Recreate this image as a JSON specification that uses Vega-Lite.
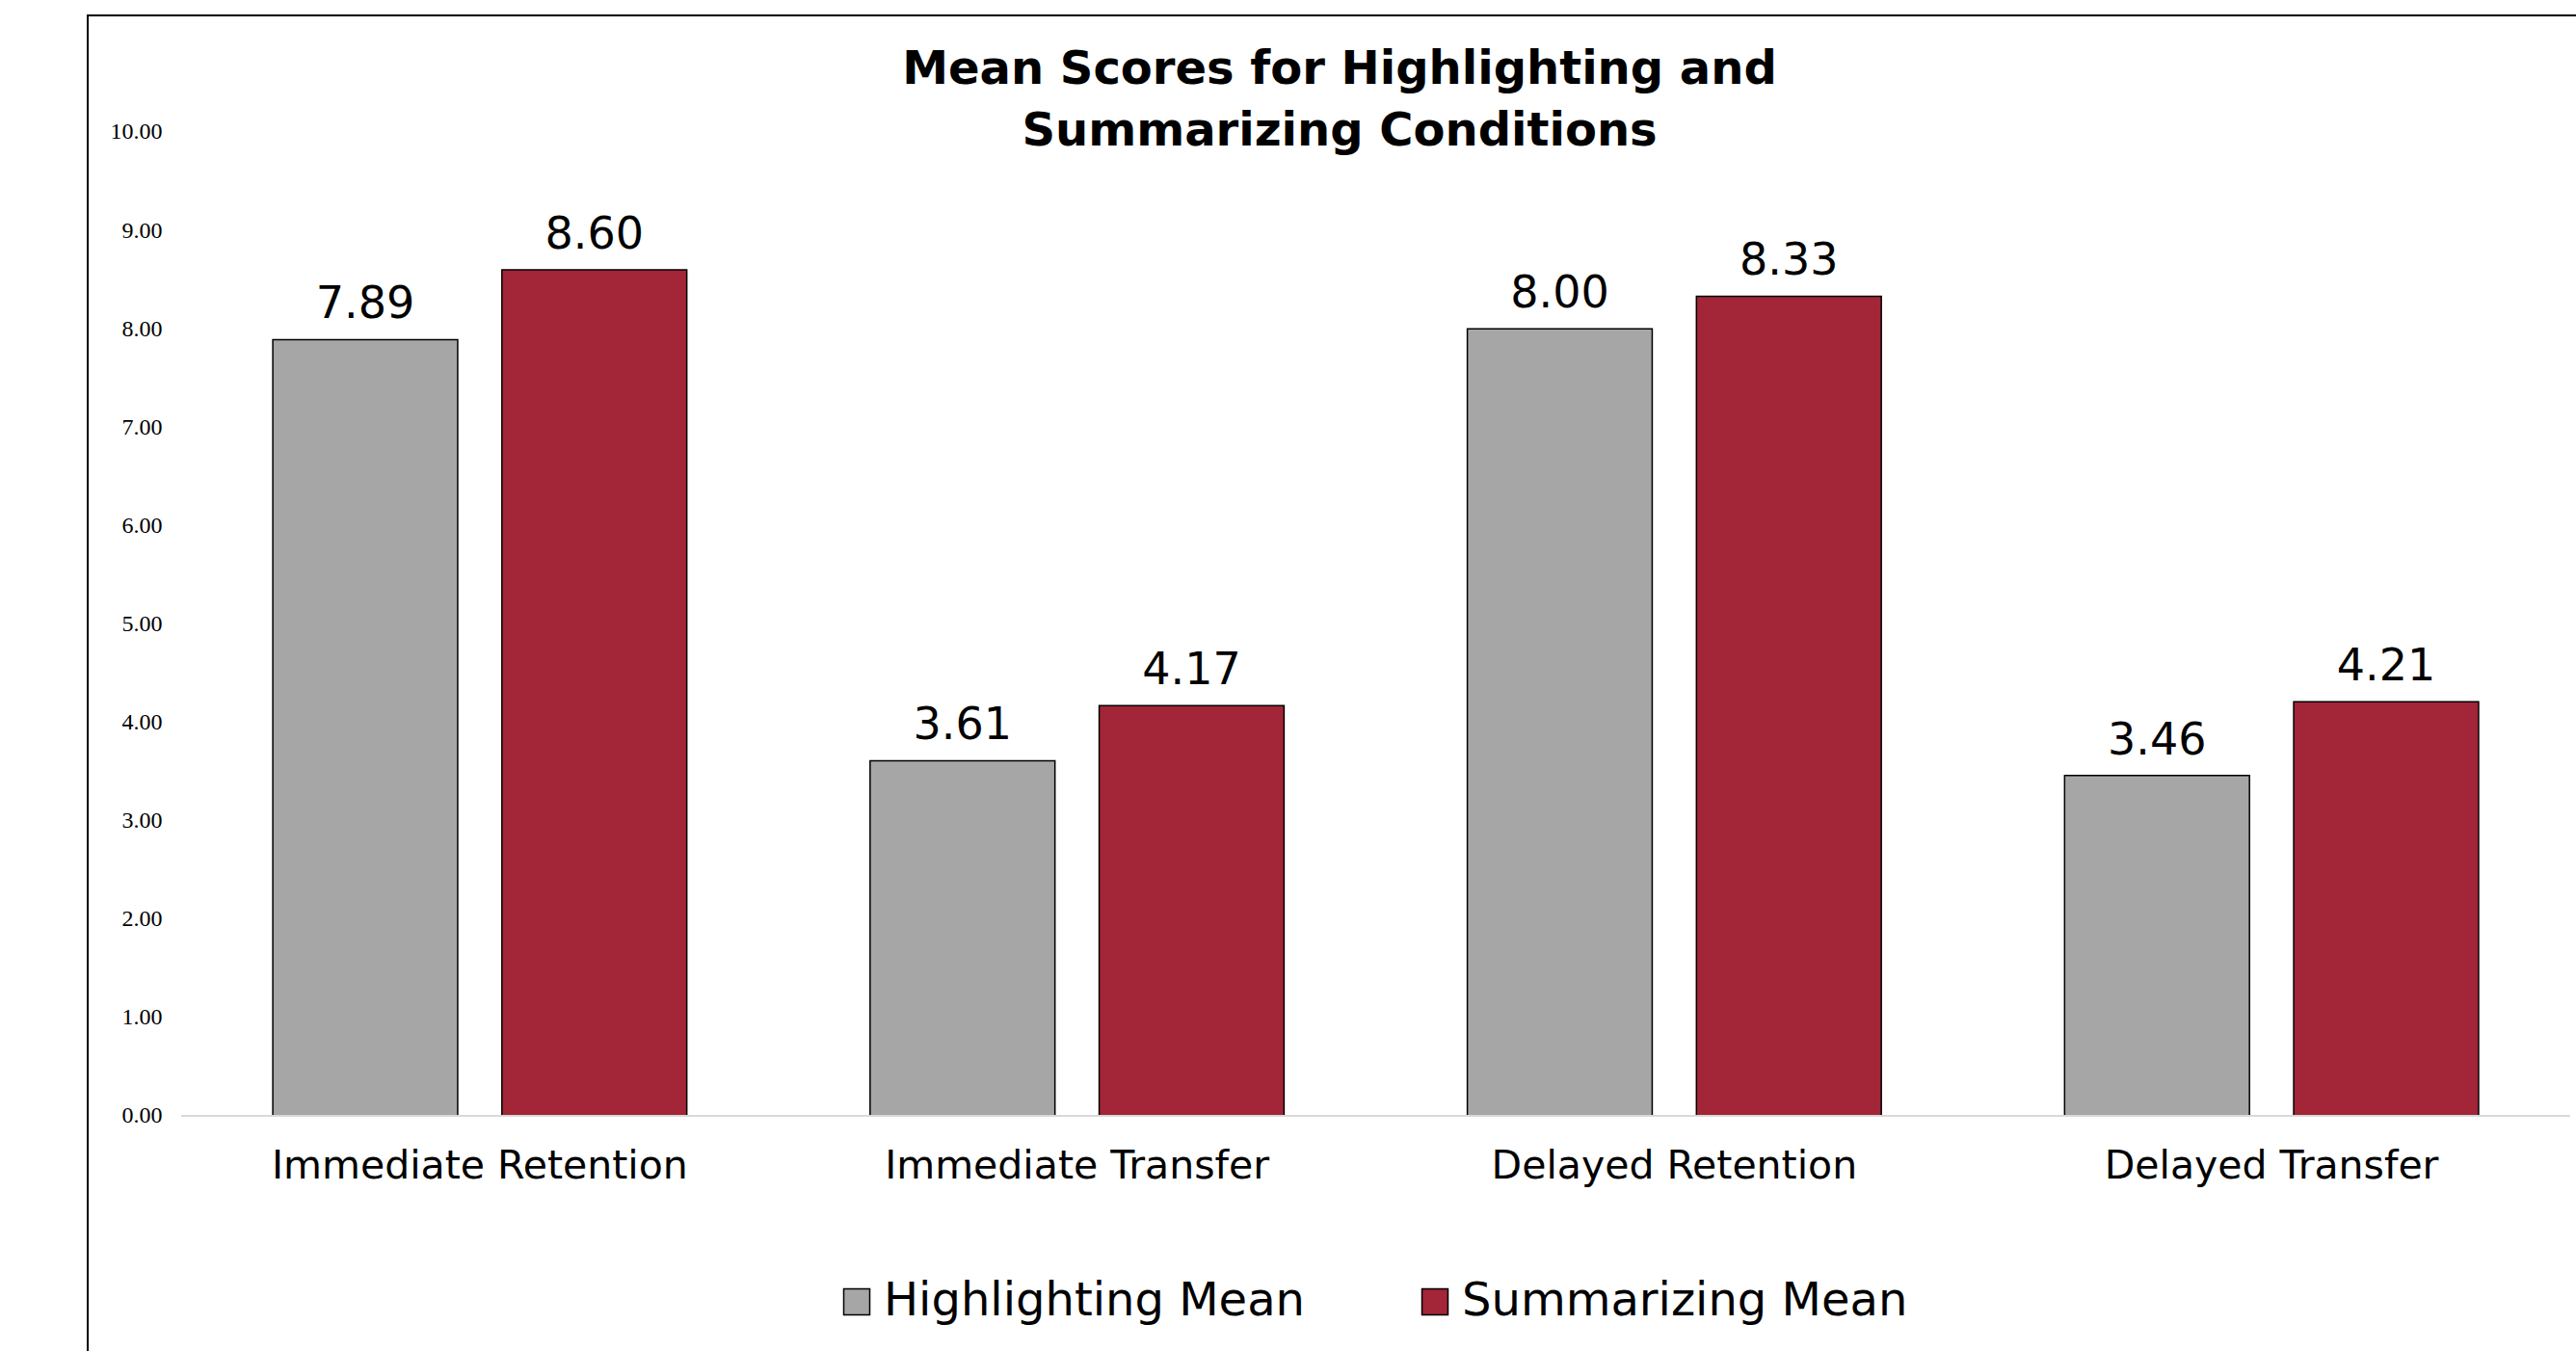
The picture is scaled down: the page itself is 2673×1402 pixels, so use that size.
{
  "$schema": "https://vega.github.io/schema/vega-lite/v6.json",
  "width": 2582,
  "height": 1386,
  "autosize": {"type": "none"},
  "padding": {"left": 91, "top": 16, "right": 0, "bottom": 0},
  "background": "white",
  "config": {
    "view": {"stroke": "black", "strokeWidth": 2, "strokeDash": [2582, 3968, 1386]},
    "font": "DejaVu Sans"
  },
  "title": {
    "text": ["Mean Scores for Highlighting and", "Summarizing Conditions"],
    "font": "DejaVu Sans",
    "fontSize": 48,
    "fontWeight": "bold",
    "color": "black",
    "anchor": "middle",
    "frame": "group",
    "lineHeight": 64,
    "baseline": "alphabetic",
    "offset": 0,
    "dy": 183,
    "dx": 8
  },
  "layer": [
    {
      "data": {
        "values": [
          {"measure": "Immediate Retention", "series": "Highlighting Mean", "value": 7.89},
          {"measure": "Immediate Retention", "series": "Summarizing Mean", "value": 8.60},
          {"measure": "Immediate Transfer", "series": "Highlighting Mean", "value": 3.61},
          {"measure": "Immediate Transfer", "series": "Summarizing Mean", "value": 4.17},
          {"measure": "Delayed Retention", "series": "Highlighting Mean", "value": 8.00},
          {"measure": "Delayed Retention", "series": "Summarizing Mean", "value": 8.33},
          {"measure": "Delayed Transfer", "series": "Highlighting Mean", "value": 3.46},
          {"measure": "Delayed Transfer", "series": "Summarizing Mean", "value": 4.21}
        ]
      },
      "layer": [
        {
          "mark": {"type": "bar", "stroke": "black", "strokeWidth": 1.5},
          "encoding": {
            "x": {
              "field": "measure", "type": "nominal", "title": null,
              "scale": {
                "domain": ["Immediate Retention", "Immediate Transfer", "Delayed Retention", "Delayed Transfer"],
                "paddingInner": 0, "paddingOuter": 0.0831, "align": 0.9417
              },
              "axis": {
                "domain": false, "ticks": false, "tickSize": 0, "grid": false,
                "labelAngle": 0, "labelFont": "DejaVu Sans", "labelFontSize": 41,
                "labelColor": "black", "labelBaseline": "alphabetic",
                "labelPadding": 0, "offset": -180, "labelLimit": 1000
              }
            },
            "xOffset": {
              "field": "series", "type": "nominal",
              "scale": {"domain": ["Highlighting Mean", "Summarizing Mean"], "paddingInner": 0.193, "paddingOuter": 0.4}
            },
            "y": {
              "field": "value", "type": "quantitative", "title": null,
              "scale": {"domain": [-2.39, 11.185], "nice": false, "zero": false},
              "axis": {
                "values": [0, 1, 2, 3, 4, 5, 6, 7, 8, 9, 10],
                "format": ".2f", "domain": false, "ticks": false, "tickSize": 0, "grid": false,
                "labelFont": "Liberation Serif", "labelFontSize": 24, "labelColor": "black",
                "labelPadding": 0, "offset": -77
              }
            },
            "y2": {"datum": 0},
            "color": {
              "field": "series", "type": "nominal",
              "scale": {"domain": ["Highlighting Mean", "Summarizing Mean"], "range": ["#a6a6a6", "#a22538"]},
              "legend": {
                "orient": "none", "legendX": 774, "legendY": 1311, "direction": "horizontal",
                "title": null, "symbolType": "square", "symbolSize": 729,
                "symbolStrokeColor": "black", "symbolStrokeWidth": 1.5, "symbolOpacity": 1,
                "labelFont": "DejaVu Sans", "labelFontSize": 48, "labelColor": "black",
                "labelOffset": 4, "columnPadding": 111, "labelLimit": 1000, "padding": 0
              }
            }
          }
        },
        {
          "mark": {"type": "text", "baseline": "alphabetic", "dy": -22, "fontSize": 46, "font": "DejaVu Sans", "color": "black"},
          "encoding": {
            "x": {"field": "measure", "type": "nominal", "title": null},
            "xOffset": {"field": "series", "type": "nominal"},
            "y": {"field": "value", "type": "quantitative", "title": null},
            "text": {"field": "value", "type": "quantitative", "format": ".2f"}
          }
        }
      ]
    },
    {
      "data": {"values": [{"from": "Immediate Retention", "to": "Delayed Transfer"}]},
      "mark": {"type": "rule", "color": "#d9d9d9", "strokeWidth": 2},
      "encoding": {
        "x": {"field": "from", "type": "nominal", "bandPosition": 0, "title": null},
        "x2": {"field": "to", "bandPosition": 1},
        "y": {"datum": 0, "type": "quantitative"}
      }
    }
  ]
}
